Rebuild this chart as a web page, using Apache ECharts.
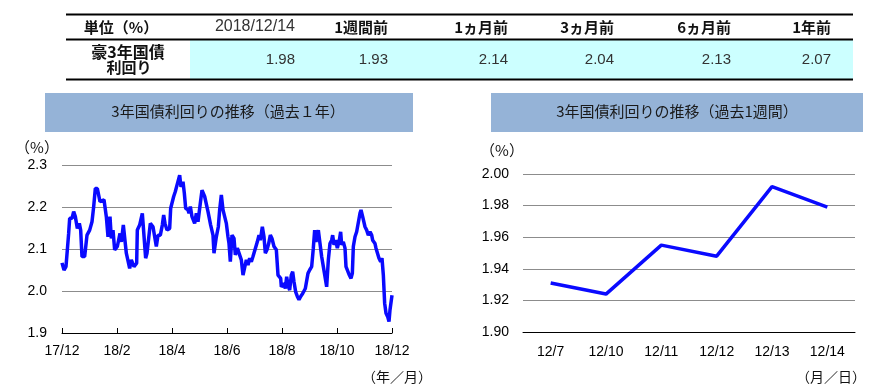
<!DOCTYPE html>
<html>
<head>
<meta charset="utf-8">
<script src="https://cdn.jsdelivr.net/npm/echarts@6/dist/echarts.min.js"></script>
<style>
html,body{margin:0;padding:0;background:#fff;}
#c{width:883px;height:390px;}
</style>
</head>
<body>
<div id="c"></div>
<script>
// ---------- data ----------
const tableCorner = '単位（%）';
const tableColumns = ['2018/12/14', '1週間前', '1ヵ月前', '3ヵ月前', '6ヵ月前', '1年前'];
const tableRowLabel = ['豪3年国債', '利回り'];
const tableValues = [1.98, 1.93, 2.14, 2.04, 2.13, 2.07];

const title1y = '3年国債利回りの推移（過去１年）';
const title1w = '3年国債利回りの推移（過去1週間）';
const xTickLabels1y = ['17/12', '18/2', '18/4', '18/6', '18/8', '18/10', '18/12'];

// x: months elapsed since 2017/12
const monthOffsets1y = [
  0, 0.073, 0.145, 0.242, 0.279, 0.364, 0.424, 0.485, 0.558, 0.630, 0.679, 0.727, 0.824, 0.909,
  1.006, 1.091, 1.152, 1.212, 1.285, 1.382, 1.527, 1.612, 1.673, 1.745, 1.794, 1.855, 1.915,
  2.012, 2.109, 2.158, 2.230, 2.339, 2.461, 2.521, 2.618, 2.715, 2.739, 2.824, 2.921, 2.970,
  3.042, 3.091, 3.212, 3.309, 3.370, 3.430, 3.491, 3.576, 3.648, 3.697, 3.745, 3.818, 3.915, 3.952,
  4.061, 4.121, 4.182, 4.279, 4.327, 4.400, 4.448, 4.497, 4.582, 4.618, 4.667, 4.727, 4.788, 4.824, 4.885, 4.945,
  5.030, 5.091, 5.188, 5.309, 5.406, 5.491, 5.527, 5.612, 5.685, 5.733, 5.794, 5.855, 5.915, 5.976,
  6.036, 6.073, 6.121, 6.182, 6.255, 6.303, 6.376, 6.436, 6.521, 6.582, 6.642, 6.703, 6.764, 6.824, 6.885, 6.945,
  7.006, 7.103, 7.164, 7.212, 7.285, 7.345, 7.394, 7.455, 7.515, 7.576, 7.636, 7.709, 7.794, 7.855, 7.952, 7.976,
  8.073, 8.121, 8.170, 8.218, 8.279, 8.339, 8.388, 8.436, 8.497, 8.558, 8.618, 8.679, 8.752, 8.848, 8.945,
  9.006, 9.079, 9.139, 9.188, 9.236, 9.285, 9.321, 9.382, 9.442, 9.503, 9.564, 9.624, 9.685, 9.745, 9.806, 9.842, 9.891, 9.952,
  10.012, 10.085, 10.133, 10.170, 10.230, 10.291, 10.327, 10.388, 10.448, 10.509, 10.558, 10.594, 10.655, 10.715, 10.776, 10.836, 10.873, 10.933, 10.982,
  11.018, 11.079, 11.139, 11.200, 11.261, 11.297, 11.382, 11.418, 11.479, 11.527, 11.588, 11.636, 11.685, 11.733, 11.782, 11.842, 11.891, 11.927, 11.964, 12.0
];
const yields1y = [
  2.067, 2.050, 2.058, 2.137, 2.173, 2.173, 2.189, 2.177, 2.149, 2.161, 2.145, 2.082, 2.082, 2.133,
  2.145, 2.165, 2.201, 2.244, 2.244, 2.213, 2.217, 2.177, 2.129, 2.177, 2.125, 2.145, 2.098,
  2.106, 2.137, 2.117, 2.157, 2.090, 2.054, 2.074, 2.058, 2.066, 2.145, 2.157, 2.185, 2.181,
  2.078, 2.090, 2.161, 2.153, 2.149, 2.106, 2.133, 2.133, 2.157, 2.181, 2.161, 2.145, 2.149, 2.197,
  2.225, 2.237, 2.252, 2.276, 2.248, 2.260, 2.233, 2.197, 2.193, 2.185, 2.201, 2.177, 2.181, 2.161, 2.185, 2.165,
  2.209, 2.240, 2.225, 2.189, 2.157, 2.133, 2.090, 2.129, 2.153, 2.193, 2.229, 2.193, 2.197, 2.161,
  2.129, 2.113, 2.070, 2.133, 2.125, 2.086, 2.102, 2.098, 2.074, 2.038, 2.042, 2.074, 2.062, 2.078, 2.070, 2.082,
  2.078, 2.117, 2.133, 2.121, 2.153, 2.129, 2.090, 2.098, 2.113, 2.133, 2.125, 2.106, 2.098, 2.038, 2.030, 2.010,
  2.018, 2.006, 2.034, 2.014, 2.002, 2.038, 2.046, 2.022, 1.998, 1.987, 1.979, 1.987, 1.994, 2.006, 2.042,
  2.050, 2.058, 2.102, 2.145, 2.117, 2.121, 2.145, 2.113, 2.082, 2.058, 2.034, 2.010, 2.074, 2.113, 2.121, 2.133, 2.110, 2.121,
  2.102, 2.121, 2.141, 2.110, 2.117, 2.102, 2.058, 2.054, 2.038, 2.030, 2.042, 2.106, 2.129, 2.141, 2.141, 2.185, 2.193, 2.177, 2.173,
  2.153, 2.145, 2.133, 2.141, 2.133, 2.121, 2.113, 2.102, 2.098, 2.078, 2.070, 2.078, 2.038, 1.971, 1.947, 1.939, 1.927, 1.955, 1.959, 1.990
];

const weekDates = ['12/7', '12/10', '12/11', '12/12', '12/13', '12/14'];
const weekYields = [1.931, 1.924, 1.955, 1.948, 1.992, 1.979];

// ---------- drawing ----------
const CJK = '"Noto Sans CJK JP", "Noto Sans", sans-serif';
const LAT = '"Liberation Sans", Arial, "Noto Sans CJK JP", sans-serif';

const colRight = [295, 388, 508, 614, 731, 831];
const graphics = [];

// table
graphics.push({ type: 'rect', shape: { x: 190, y: 40, width: 663, height: 39 }, style: { fill: '#ccffff' }, silent: true });
[14.5, 39.5, 79.5].forEach(y => {
  graphics.push({ type: 'line', shape: { x1: 66, y1: y, x2: 853, y2: y }, style: { stroke: '#000', lineWidth: 2 }, silent: true });
});
function txt(text, x, y, font, align, fill) {
  return { type: 'text', silent: true, style: { text: text, x: x, y: y, font: font, textAlign: align, align: align, textVerticalAlign: 'middle', verticalAlign: 'middle', fill: fill || '#111' } };
}
graphics.push(txt(tableCorner, 121, 27, 'bold 15px ' + CJK, 'center'));
tableColumns.forEach((c, i) => {
  const f = i === 0 ? '16px ' + LAT : 'bold 15px ' + CJK;
  graphics.push(txt(c, colRight[i], 27, f, 'right', i === 0 ? '#333' : '#111'));
});
graphics.push(txt(tableRowLabel[0], 128, 51.5, 'bold 16px ' + CJK, 'center'));
graphics.push(txt(tableRowLabel[1], 129, 67.5, 'bold 15px ' + CJK, 'center'));
tableValues.forEach((v, i) => {
  graphics.push(txt(v.toFixed(2), colRight[i], 60, '15px ' + LAT, 'right', '#333'));
});

// chart title boxes
graphics.push({ type: 'rect', shape: { x: 45, y: 93, width: 368, height: 39 }, style: { fill: '#95b3d7' }, silent: true });
graphics.push({ type: 'rect', shape: { x: 491, y: 93, width: 372, height: 39 }, style: { fill: '#95b3d7' }, silent: true });
graphics.push(txt(title1y, 228, 111.5, '15px ' + CJK, 'center', '#1a1a1a'));
graphics.push(txt(title1w, 677, 111.5, '15px ' + CJK, 'center', '#1a1a1a'));

// unit labels
graphics.push(txt('（%）', 37, 147, '15px ' + CJK, 'center', '#111'));
graphics.push(txt('（%）', 502, 150, '15px ' + CJK, 'center', '#111'));
graphics.push(txt('（年／月）', 397, 377, '14px ' + CJK, 'center', '#111'));
graphics.push(txt('（月／日）', 831, 377, '14px ' + CJK, 'center', '#111'));

const axisLbl = { color: '#000', fontSize: 14, fontFamily: LAT };

const chart = echarts.init(document.getElementById('c'), null, { renderer: 'canvas' });
chart.setOption({
  animation: false,
  backgroundColor: '#fff',
  graphic: { elements: graphics },
  grid: [
    { left: 62, top: 165, width: 330, height: 168 },
    { left: 523, top: 174, width: 332, height: 158 }
  ],
  xAxis: [
    {
      gridIndex: 0, type: 'value', min: 0, max: 12, interval: 2,
      axisLine: { lineStyle: { color: '#000', width: 1 } },
      axisTick: { inside: true, length: 5, lineStyle: { color: '#000' } },
      axisLabel: Object.assign({ margin: 11, formatter: v => xTickLabels1y[Math.round(v / 2)] }, axisLbl),
      splitLine: { show: false }
    },
    {
      gridIndex: 1, type: 'category', data: weekDates, boundaryGap: true,
      axisLine: { lineStyle: { color: '#000', width: 1 } },
      axisTick: { inside: true, length: 5, lineStyle: { color: '#000' } },
      axisLabel: Object.assign({ margin: 13 }, axisLbl),
      splitLine: { show: false }
    }
  ],
  yAxis: [
    {
      gridIndex: 0, type: 'value', min: 1.9, max: 2.3, interval: 0.1,
      axisLine: { show: false }, axisTick: { show: false },
      splitLine: { lineStyle: { color: '#8c8c8c', width: 1 } },
      axisLabel: Object.assign({ margin: 15, formatter: v => v.toFixed(1) }, axisLbl)
    },
    {
      gridIndex: 1, type: 'value', min: 1.9, max: 2.0, interval: 0.02,
      axisLine: { show: false }, axisTick: { show: false },
      splitLine: { lineStyle: { color: '#8c8c8c', width: 1 } },
      axisLabel: Object.assign({ margin: 14, formatter: v => v.toFixed(2) }, axisLbl)
    }
  ],
  series: [
    {
      type: 'line', xAxisIndex: 0, yAxisIndex: 0, showSymbol: false,
      data: monthOffsets1y.map((m, i) => [m, yields1y[i]]),
      lineStyle: { color: '#0a0aff', width: 3.5 }, itemStyle: { color: '#0a0aff' }
    },
    {
      type: 'line', xAxisIndex: 1, yAxisIndex: 1, showSymbol: false,
      data: weekYields,
      lineStyle: { color: '#0a0aff', width: 3.5 }, itemStyle: { color: '#0a0aff' }
    }
  ]
});
</script>
</body>
</html>
